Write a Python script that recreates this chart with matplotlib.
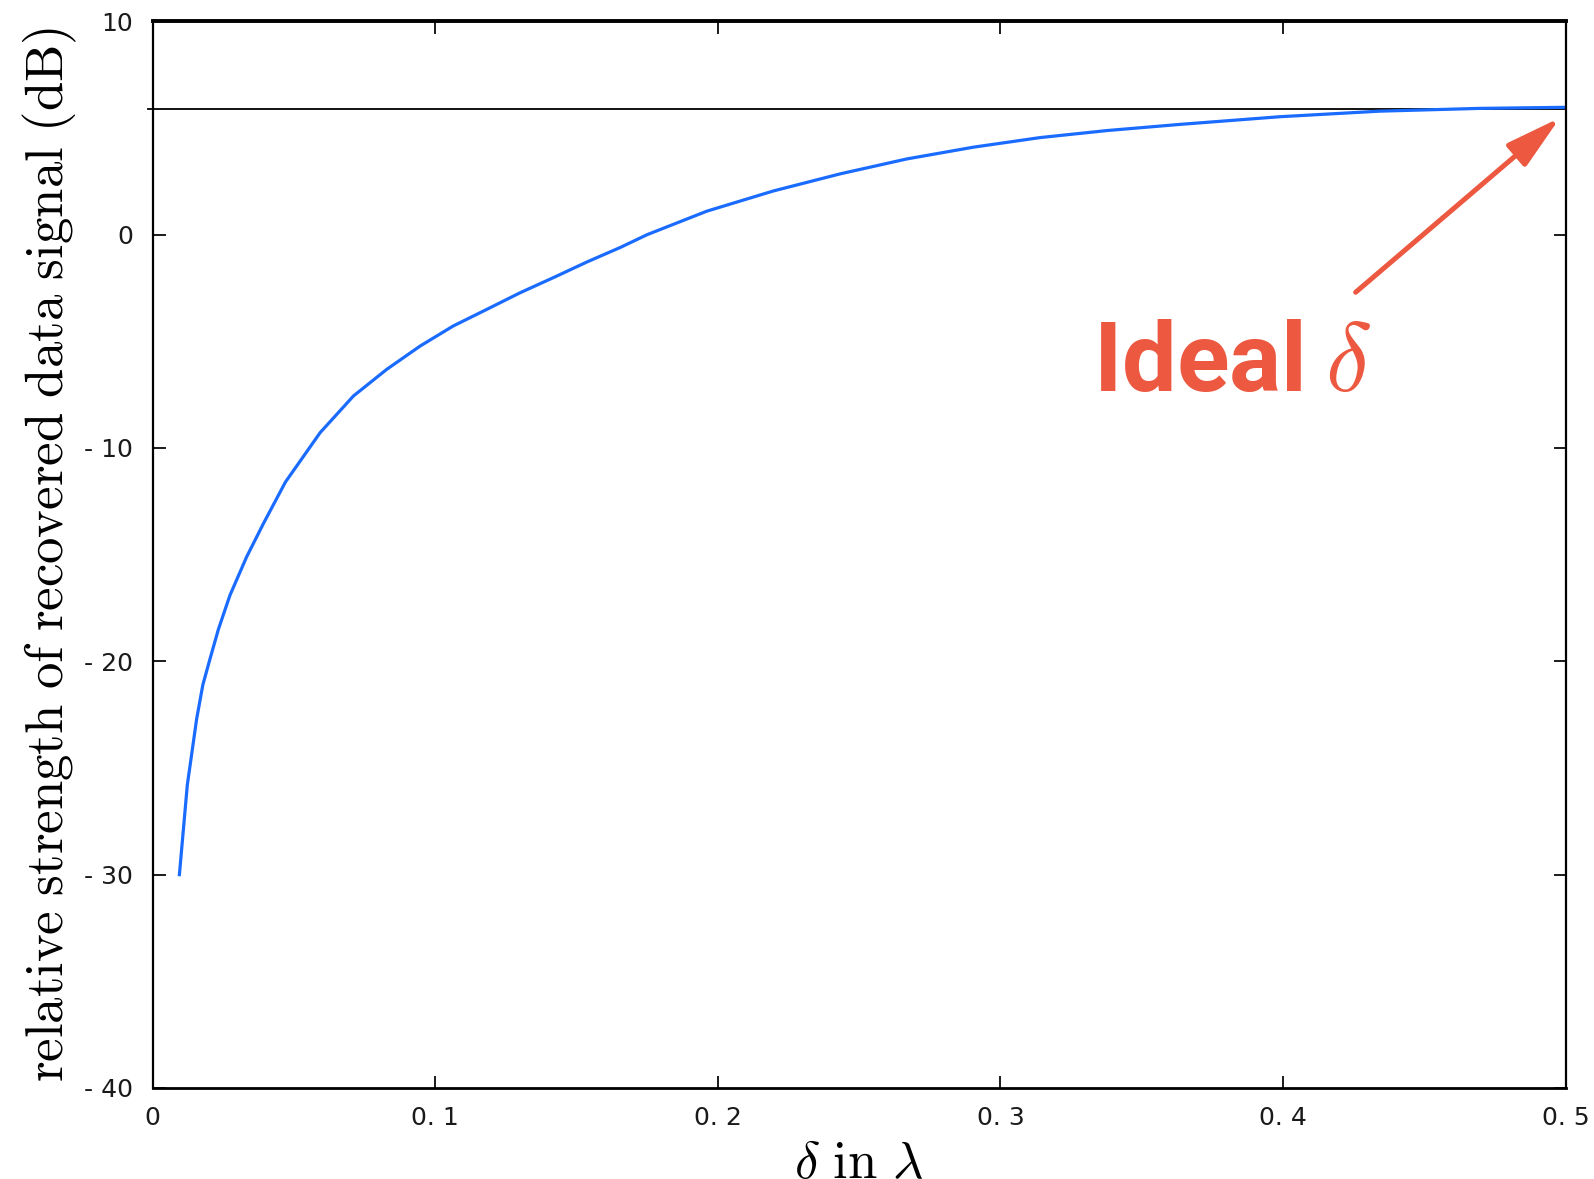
"""
Recovered data signal strength vs delta offset.
"""

import matplotlib.pyplot as plt

plt.rcParams['mathtext.fontset'] = 'cm'

# curve (delta in lambda, dB)
delta = [0.0095, 0.0109, 0.0123, 0.0139, 0.0156, 0.0178, 0.0203, 0.0233,
         0.0274, 0.0333, 0.0392, 0.0470, 0.0593, 0.0711, 0.0829, 0.0947,
         0.1064, 0.1183, 0.1301, 0.1419, 0.1537, 0.1655, 0.1750, 0.1961,
         0.2197, 0.2433, 0.2669, 0.2904, 0.3140, 0.3377, 0.3636, 0.3990,
         0.4343, 0.4697, 0.5000]
strength_db = [-30.0, -27.9, -25.8, -24.3, -22.7, -21.1, -19.9, -18.5,
               -16.9, -15.1, -13.55, -11.6, -9.28, -7.56, -6.31, -5.22,
               -4.28, -3.50, -2.72, -2.01, -1.28, -0.6, 0.0, 1.10,
               2.05, 2.85, 3.55, 4.10, 4.55, 4.88, 5.17, 5.53,
               5.79, 5.92, 5.97]
ideal_level = 5.88

x_ticks = [0, 0.1, 0.2, 0.3, 0.4, 0.5]
x_ticklabels = ['0', '0. 1', '0. 2', '0. 3', '0. 4', '0. 5']
y_ticks = [10, 0, -10, -20, -30, -40]
y_ticklabels = ['10', '0', '- 10', '- 20', '- 30', '- 40']

arrow_tail = (0.4257, -2.7)
arrow_tip = (0.498, 5.48)
label_pos = (0.3328, -7.33)

red = '#ec5840'
blue = '#1a6bff'

fig = plt.figure(figsize=(15.94, 11.79), dpi=100)
ax = fig.add_axes([0.0957, 0.0772, 0.8865, 0.9047])

ax.plot(delta, strength_db, color=blue, lw=2.3, solid_joinstyle='round')
ax.axhline(ideal_level, xmin=-0.003, xmax=1, color='black', lw=1.3,
           clip_on=False, zorder=1)

ax.set_xlim(0, 0.5)
ax.set_ylim(-40, 10)
ax.set_xticks(x_ticks)
ax.set_xticklabels(x_ticklabels)
ax.set_yticks(y_ticks)
ax.set_yticklabels(y_ticklabels)
ax.tick_params(direction='in', length=9, width=1.4, top=True, right=True,
               labelsize=18, colors='#1a1a1a')
ax.tick_params(axis='x', pad=13)
ax.tick_params(axis='y', pad=14)
widths = {'top': 2.8, 'bottom': 2.0, 'left': 1.6, 'right': 1.6}
for name, sp in ax.spines.items():
    sp.set_linewidth(widths[name])

ax.set_ylabel(r'$\mathrm{relative\ strength\ of\ recovered\ data\ signal\ (dB)}$',
              fontsize=38, labelpad=4)
ax.set_xlabel(r'$\delta\ \mathrm{in}\ \lambda$', fontsize=38, labelpad=5)

ax.annotate('', xy=arrow_tip, xytext=arrow_tail,
            arrowprops=dict(arrowstyle='-|>,head_length=1.7,head_width=0.45',
                            mutation_scale=20, lw=3.6, color=red,
                            shrinkA=0, shrinkB=0))
ax.text(label_pos[0], label_pos[1], r'Ideal$\:\delta$', color=red,
        fontsize=70, fontweight='bold', family='Roboto',
        ha='left', va='baseline')

plt.savefig('out.png', dpi=100)
